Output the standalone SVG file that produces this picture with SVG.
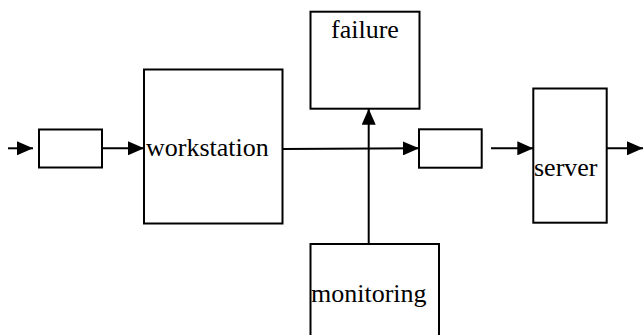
<svg xmlns="http://www.w3.org/2000/svg" width="643" height="335" viewBox="0 0 643 335">
<style>
.box{fill:#fff;stroke:#000;stroke-width:2}
.lbl{font-family:'Liberation Serif','Times New Roman',serif;font-size:26px;fill:#000}
.con{stroke:#000;stroke-width:2;fill:none}
</style>
<defs>
<marker id="ah" markerUnits="userSpaceOnUse" markerWidth="16" markerHeight="14" refX="16" refY="7" orient="auto">
<path d="M0,0 L16,7 L0,14 z" fill="#000"/>
</marker>
</defs>
<rect width="643" height="335" fill="#fff"/>
<g id="buffer1"><rect class="box" x="39" y="129.5" width="63" height="38"/></g>
<g id="workstation"><rect class="box" x="144" y="69.5" width="138.5" height="154"/><text class="lbl" x="146" y="156" font-family="Liberation Serif, serif">workstation</text></g>
<g id="failure"><rect class="box" x="310.5" y="11.7" width="109" height="97"/><text class="lbl" x="331" y="37.5" font-family="Liberation Serif, serif">failure</text></g>
<g id="buffer2"><rect class="box" x="419" y="129.3" width="62.7" height="38.4"/></g>
<g id="server"><rect class="box" x="533.3" y="88.5" width="73.4" height="134.2"/><text class="lbl" x="534" y="176" font-family="Liberation Serif, serif">server</text></g>
<g id="monitoring"><rect class="box" x="310.5" y="244" width="128.5" height="100"/><text class="lbl" x="311" y="302" font-family="Liberation Serif, serif">monitoring</text></g>
<g id="connectors">
<line class="con" x1="8" y1="148.3" x2="33" y2="148.3" marker-end="url(#ah)"/>
<line class="con" x1="102" y1="148.3" x2="144" y2="148.3" marker-end="url(#ah)"/>
<line class="con" x1="282.5" y1="149" x2="419" y2="148.3" marker-end="url(#ah)"/>
<line class="con" x1="491" y1="148.3" x2="533.3" y2="148.3" marker-end="url(#ah)"/>
<line class="con" x1="606.7" y1="148.3" x2="643" y2="148.3" marker-end="url(#ah)"/>
<line class="con" x1="368.7" y1="244" x2="368.7" y2="108.7" marker-end="url(#ah)"/>
</g>
</svg>
